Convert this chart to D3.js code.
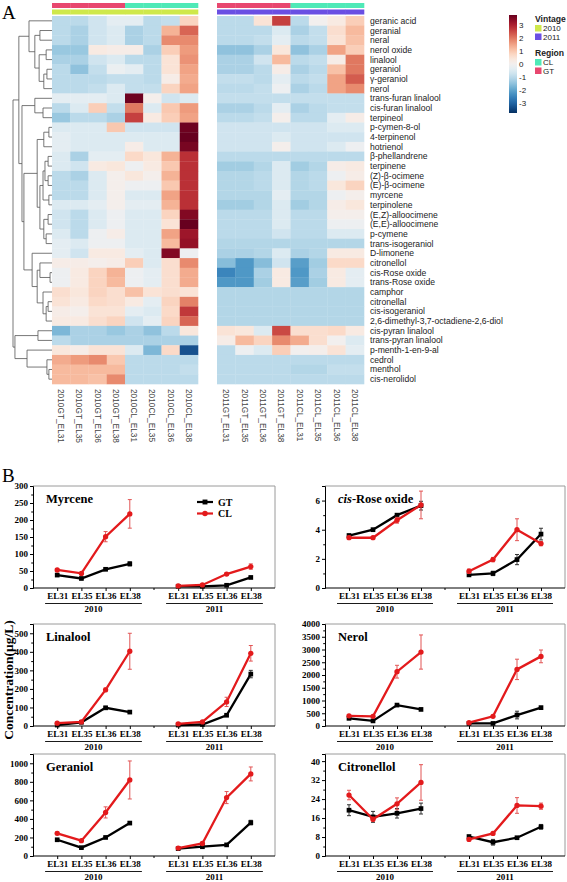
<!DOCTYPE html>
<html><head><meta charset="utf-8">
<script src="https://cdn.jsdelivr.net/npm/d3@7"></script>
<style>body{margin:0;background:#fff}svg{display:block}</style>
</head><body><svg id="c" width="567" height="882"></svg>
<script>
// ---------------- DATA: heatmap ----------------
const compounds = ["geranic acid","geranial","neral","nerol oxide","linalool","geraniol","γ-geraniol","nerol",
"trans-furan linalool","cis-furan linalool","terpineol","p-cymen-8-ol","4-terpinenol","hotrienol","β-phellandrene",
"terpinene","(Z)-β-ocimene","(E)-β-ocimene","myrcene","terpinolene","(E,Z)-alloocimene","(E,E)-alloocimene","p-cymene",
"trans-isogeraniol","D-limonene","citronellol","cis-Rose oxide","trans-Rose oxide","camphor","citronellal","cis-isogeraniol",
"2,6-dimethyl-3,7-octadiene-2,6-diol","cis-pyran linalool","trans-pyran linalool","p-menth-1-en-9-al","cedrol","menthol","cis-nerolidol"];
const samples2010 = ["2010GT_EL31","2010GT_EL35","2010GT_EL36","2010GT_EL38","2010CL_EL31","2010CL_EL35","2010CL_EL36","2010CL_EL38"];
const samples2011 = ["2011GT_EL31","2011GT_EL35","2011GT_EL36","2011GT_EL38","2011CL_EL31","2011CL_EL35","2011CL_EL36","2011CL_EL38"];
const z2010 = [
[-1.0,-1.0,-0.7,-0.35,-0.35,-1.0,-0.9,0.8],
[-1.0,-1.2,-0.7,-0.5,-1.2,-1.0,1.3,2.2],
[-1.0,-1.2,-0.7,-0.5,-1.2,-1.0,1.8,1.8],
[-1.4,-1.4,0.3,0.2,0.2,-1.2,0.9,1.6],
[-1.2,-1.2,-0.7,-0.5,-1.0,-1.0,0.5,1.7],
[-1.0,-1.5,-0.9,-0.2,-0.35,-1.0,0.5,1.5],
[-1.0,-1.0,-1.0,-0.9,-0.9,-1.0,0.2,1.4],
[-1.0,-1.0,-0.9,-0.5,-0.9,-0.9,0.8,1.5],
[-0.35,-0.35,-0.35,-0.5,3.7,0.1,-0.7,-0.5],
[-1.0,-0.5,0.9,-0.9,2.0,-0.5,1.0,1.6],
[-1.4,-1.0,-1.0,-1.2,2.6,0.3,0.9,1.5],
[-0.5,-0.5,-0.5,1.0,-0.7,-0.7,-0.7,3.7],
[-0.35,-0.5,-0.5,-0.5,-0.5,-0.5,-0.5,3.8],
[-0.35,-0.5,-0.5,-0.5,0.2,-0.5,-0.5,3.6],
[-0.5,-1.2,-0.35,-0.35,0.7,0.4,1.3,2.8],
[-0.5,-0.7,0.3,0.4,-0.15,0.3,1.0,2.8],
[-1.0,-1.2,-0.5,0.1,0.4,0.1,1.3,2.8],
[-1.0,-1.0,-0.5,0.1,-0.15,-0.15,1.0,2.8],
[-1.0,-1.0,-0.5,0.1,-0.5,-0.5,1.5,2.8],
[-0.5,-0.5,-0.35,0.1,-0.35,-0.35,1.3,2.8],
[-0.7,-1.0,-0.5,-0.15,-0.5,-0.5,0.8,3.5],
[-0.7,-1.0,-0.5,-0.15,-0.5,-0.5,0.5,3.8],
[-0.5,-1.0,-0.15,0.2,-0.5,-0.5,1.5,3.2],
[-0.35,-0.5,-0.15,-0.15,-0.5,-0.5,1.2,3.3],
[-0.35,-0.7,0.3,0.3,-0.35,-0.5,3.5,-0.15],
[0.2,0.2,0.1,0.2,0.9,-0.5,0.6,1.8],
[-0.15,0.3,0.8,1.3,-0.15,-0.35,0.6,1.4],
[-0.15,0.3,0.8,1.2,-0.15,-0.35,0.6,1.4],
[0.6,0.4,0.8,0.6,1.1,0.5,0.6,0.5],
[0.5,0.3,0.7,0.6,0.3,-0.35,0.8,1.9],
[0.2,0.1,0.5,0.5,-0.35,-0.5,0.7,2.7],
[0.3,0.3,0.6,0.8,-0.7,-0.35,0.8,2.2],
[-1.7,-1.2,-1.2,-1.4,-1.2,-1.5,-1.0,0.4],
[-1.0,-1.2,-1.2,-1.2,-1.2,-1.2,-1.2,-1.2],
[0.4,0.2,0.5,0.5,-0.5,-1.7,0.7,-3.3],
[1.4,1.6,1.8,1.0,-1.0,-1.0,-1.0,-1.0],
[1.2,1.2,1.2,1.2,-1.0,-1.0,-1.0,-0.9],
[1.2,1.2,1.1,1.8,-1.0,-1.0,-1.0,-1.0]];
const z2011 = [
[-1.0,-1.0,0.5,2.6,-1.0,0.0,0.3,0.9],
[-1.0,-1.0,-1.0,-0.5,-1.2,-0.9,0.6,1.2],
[-1.0,-1.0,-0.9,-0.35,-1.0,-0.9,0.5,1.1],
[-1.5,-1.5,-1.2,0.4,-1.5,-1.2,1.5,0.9],
[-1.2,-1.2,-0.7,1.2,-1.0,-0.9,0.2,2.0],
[-1.2,-1.2,-1.0,0.2,-1.2,-1.0,1.1,2.0],
[-0.9,-0.9,-1.0,-0.35,-1.0,-0.9,1.5,2.3],
[-1.0,-1.0,-0.9,-0.15,-1.2,-1.0,1.5,1.8],
[-0.9,-0.9,-0.9,-0.9,-0.9,-0.9,-0.9,-0.9],
[-1.2,-1.2,-1.0,-0.35,-1.2,-1.0,-0.9,-0.9],
[-1.0,-1.0,-0.9,0.1,-1.0,-1.0,-0.35,0.2],
[-0.7,-0.7,-0.7,-0.7,-0.7,-0.7,-0.5,-0.5],
[-0.7,-0.7,-0.7,-0.5,-0.7,-0.7,-0.7,-0.7],
[-0.7,-0.7,-0.7,0.1,-0.7,-0.7,-0.5,-0.15],
[-1.0,-1.0,-1.0,-1.0,-1.0,-1.0,-1.0,-1.0],
[-1.3,-1.3,-1.1,-0.5,-1.3,-1.1,0.2,0.3],
[-1.1,-1.1,-1.0,-0.5,-1.1,-1.0,-0.15,0.2],
[-1.1,-1.1,-1.0,-0.5,-1.1,-1.0,0.4,0.8],
[-1.1,-1.1,-1.1,-0.35,-1.1,-1.1,-0.15,0.1],
[-1.3,-1.3,-1.1,-0.5,-1.3,-1.1,0.2,0.4],
[-1.0,-1.0,-1.0,-0.5,-1.0,-1.0,0.1,0.1],
[-1.0,-1.0,-1.0,-0.5,-1.0,-1.0,-0.15,-0.15],
[-1.0,-1.0,-1.0,-0.7,-1.0,-1.0,-0.5,-0.5],
[-1.1,-1.1,-1.1,-1.1,-1.1,-1.1,-1.1,-1.1],
[-1.2,-1.2,-1.1,-0.5,-1.2,-1.1,0.3,0.3],
[-1.6,-2.2,-1.6,-0.7,-2.1,-1.3,0.7,0.7],
[-2.5,-2.2,-1.2,0.3,-2.2,-1.2,0.3,-0.35],
[-2.2,-2.2,-1.3,0.3,-2.1,-1.3,0.3,-0.35],
[-1.1,-1.1,-1.1,-1.1,-1.1,-1.1,-1.1,-1.1],
[-1.1,-1.1,-1.1,-1.1,-1.1,-1.1,-1.1,-1.1],
[-1.1,-1.1,-1.1,-1.1,-1.1,-1.1,-1.1,-1.1],
[-1.1,-1.1,-1.1,-1.1,-1.1,-1.1,-1.1,-1.1],
[0.5,0.4,-0.5,2.5,0.6,0.6,0.7,0.3],
[0.2,1.2,0.8,1.8,1.4,0.6,0.0,-0.5],
[-1.0,-0.15,-0.5,0.9,0.0,0.1,0.5,-0.35],
[-1.0,-1.0,-1.0,-1.0,-1.0,-1.0,-1.0,-1.0],
[-1.0,-1.0,-1.0,-1.0,-1.1,-1.1,-0.9,-0.9],
[-1.0,-1.0,-1.0,-1.0,-1.0,-1.0,-1.0,-1.0]];
const regionOfSample = ["GT","GT","GT","GT","CL","CL","CL","CL"];
const vintageLevels = ["2010","2011"];
const regionLevels = ["CL","GT"];
const colorTicks = [3,2,1,0,-1,-2,-3];
// dendrogram: [mergeHeight, left, right]; numbers are row indices
const dendro = [10,
  [8.5,
    [5.9, 0, [4.4, [3.1, 1, 2], [3.3, [1.5, 3, 4], [2.1, [1.3, 5, 6], 7]]]],
    [7.7,
      [4.4, 8, [2.3, 9, 10]],
      [7.2,
        [3.8, [2.1, [0.8, 11, 12], 13], [3.1, [2.3, [1.8, [1.0, 14, 15], [1.0, 16, 17]], [0.8, 18, 19]], [2.1, [1.0, 20, 21], [1.5, 22, 23]]]],
        [5.1, 24, [3.8, [3.1, 25, [0.5, 26, 27]], [2.3, 28, [1.5, [1.0, 29, 30], 31]]]]
      ]
    ]
  ],
  [9.5, [3.6, 32, 33], [6.4, 34, [1.3, 35, [0.8, 36, 37]]]]
];

// ---------------- DATA: line charts ----------------
const stages = ["EL31","EL35","EL36","EL38"];
const years = ["2010","2011"];
const myrceneGT = [38,28,55,71, 5,5,8,31];      const myrceneGTErr = [3,3,3,6, 1,1,1,3];
const myrceneCL = [53,43,151,218, 6,9,41,63];   const myrceneCLErr = [3,3,15,42, 1,2,4,8];
const roseGT = [3.6,4.0,5.0,5.65, 0.9,1.0,1.95,3.7]; const roseGTErr = [0.1,0.1,0.1,0.3, 0.05,0.15,0.35,0.4];
const roseCL = [3.45,3.45,4.65,5.7, 1.15,1.95,4.0,3.05]; const roseCLErr = [0.1,0.05,0.2,0.95, 0.15,0.15,0.75,0.15];
const linaloolGT = [5,20,98,75, 5,8,58,280];    const linaloolGTErr = [2,3,8,5, 1,2,5,20];
const linaloolCL = [15,22,195,403, 12,22,130,392]; const linaloolCLErr = [3,3,10,97, 3,3,25,42];
const nerolGT = [300,200,820,650, 100,100,430,720]; const nerolGTErr = [30,30,40,40, 20,20,150,50];
const nerolCL = [400,380,2130,2900, 130,380,2220,2730]; const nerolCLErr = [50,30,250,670, 30,40,400,250];
const geraniolGT = [175,90,200,355, 80,100,120,360]; const geraniolGTErr = [10,8,10,15, 8,8,8,25];
const geraniolCL = [245,165,470,820, 85,135,630,885]; const geraniolCLErr = [15,10,60,205, 10,15,65,75];
const citronellolGT = [19.3,16.5,18,20, 8.2,5.8,7.7,12.3]; const citronellolGTErr = [2.3,2.3,2,2.3, 0.5,1.2,0.3,1];
const citronellolCL = [25.7,15.5,22,31, 7,9.5,21.3,21]; const citronellolCLErr = [2,0.8,2.5,7.5, 0.5,0.5,3.3,1.3];
const panelTitles = ["Myrcene","cis-Rose oxide","Linalool","Nerol","Geraniol","Citronellol"];
const panelYMax = [300, 7, 550, 4000, 1100, 43];
const panelYStep = [50, 2, 100, 500, 200, 8];

// ---------------- DRAW ----------------
const svg = d3.select("#c");
const SANS = "'Liberation Sans', Arial, sans-serif";
const SERIF = "'Liberation Serif', 'Times New Roman', serif";

svg.append("text").attr("x",2).attr("y",19).attr("font-family",SERIF).attr("font-size",19).text("A");

const yH = d3.scaleBand().domain(compounds).range([16,384]);
const xL = d3.scaleBand().domain(samples2010).range([52,198]);
const xR = d3.scaleBand().domain(samples2011).range([217,364]);
const zmax = 3.77;
const color = d3.scaleDiverging(t => d3.interpolateRdBu(1 - t)).domain([-zmax, 0, zmax]);
const vintageColor = d3.scaleOrdinal().domain(vintageLevels).range(["#cfe84b","#6a4fe3"]);
const regionColor = d3.scaleOrdinal().domain(regionLevels).range(["#4fe9b7","#e8476f"]);

function block(xs, samples, zs, year) {
  const g = svg.append("g");
  zs.forEach((row, r) => row.forEach((v, c) => {
    g.append("rect").attr("x", xs(samples[c])).attr("y", yH(compounds[r]))
      .attr("width", xs.bandwidth()+0.3).attr("height", yH.bandwidth()+0.3).attr("fill", color(v));
  }));
  samples.forEach((s, c) => {
    g.append("rect").attr("x", xs(s)).attr("y", 3).attr("width", xs.bandwidth()+0.3).attr("height", 5)
      .attr("fill", regionColor(regionOfSample[c]));
    g.append("rect").attr("x", xs(s)).attr("y", 9.5).attr("width", xs.bandwidth()+0.3).attr("height", 5)
      .attr("fill", vintageColor(year));
    g.append("text").attr("transform", `translate(${xs(s)+xs.bandwidth()/2},389) rotate(90)`)
      .attr("dy","0.35em").attr("font-family",SANS).attr("font-size",8.3).attr("fill","#444").text(s);
  });
}
block(xL, samples2010, z2010, "2010");
block(xR, samples2011, z2011, "2011");

compounds.forEach(c => {
  svg.append("text").attr("x",370).attr("y", yH(c)+yH.bandwidth()/2).attr("dy","0.35em")
    .attr("font-family",SANS).attr("font-size",8.6).attr("fill","#222").text(c);
});

// dendrogram
const xD = d3.scaleLinear().domain([0,10]).range([52,13]);
const dg = svg.append("g").attr("fill","none").attr("stroke","#555").attr("stroke-width",0.8);
function drawNode(n) {
  if (typeof n === "number") return {x: xD(0), y: yH(compounds[n]) + yH.bandwidth()/2};
  const a = drawNode(n[1]), b = drawNode(n[2]), x = xD(n[0]);
  dg.append("path").attr("d", `M${a.x},${a.y}H${x}V${b.y}H${b.x}`);
  return {x, y:(a.y+b.y)/2};
}
drawNode(dendro);

// colour bar
const cbY = d3.scaleLinear().domain([-zmax, zmax]).range([113, 15]);
const grad = svg.append("defs").append("linearGradient").attr("id","cb").attr("x1",0).attr("y1",1).attr("x2",0).attr("y2",0);
d3.range(0, 1.0001, 0.05).forEach(t => grad.append("stop").attr("offset", t).attr("stop-color", color(-zmax + 2*zmax*t)));
svg.append("rect").attr("x",509).attr("y",15).attr("width",8).attr("height",98).attr("fill","url(#cb)");
colorTicks.forEach(t => svg.append("text").attr("x",519).attr("y",cbY(t)).attr("dy","0.35em")
  .attr("font-family",SANS).attr("font-size",8).attr("fill","#222").text(t));
// annotation legend
const lg = svg.append("g").attr("font-family",SANS).attr("font-size",8).attr("fill","#222");
lg.append("text").attr("x",535).attr("y",22).attr("font-weight","bold").attr("font-size",8.6).text("Vintage");
vintageLevels.forEach((v,i) => {
  lg.append("rect").attr("x",535).attr("y",25+i*8.5).attr("width",6.5).attr("height",6.5).attr("fill",vintageColor(v));
  lg.append("text").attr("x",543).attr("y",31+i*8.5).text(v);
});
lg.append("text").attr("x",535).attr("y",56).attr("font-weight","bold").attr("font-size",8.6).text("Region");
regionLevels.forEach((v,i) => {
  lg.append("rect").attr("x",535).attr("y",59+i*8.5).attr("width",6.5).attr("height",6.5).attr("fill",regionColor(v));
  lg.append("text").attr("x",543).attr("y",65+i*8.5).text(v);
});

// ---------------- panel B ----------------
svg.append("text").attr("x",2).attr("y",482).attr("font-family",SERIF).attr("font-size",19).text("B");
svg.append("text").attr("transform","translate(13,680) rotate(-90)").attr("text-anchor","middle")
  .attr("font-family",SERIF).attr("font-weight","bold").attr("font-size",13.5).text("Concentration(μg/L)");

const panelGT = [myrceneGT, roseGT, linaloolGT, nerolGT, geraniolGT, citronellolGT];
const panelGTErr = [myrceneGTErr, roseGTErr, linaloolGTErr, nerolGTErr, geraniolGTErr, citronellolGTErr];
const panelCL = [myrceneCL, roseCL, linaloolCL, nerolCL, geraniolCL, citronellolCL];
const panelCLErr = [myrceneCLErr, roseCLErr, linaloolCLErr, nerolCLErr, geraniolCLErr, citronellolCLErr];
const colX = [[33,275],[325,565]];
const rowY = [[486,588],[624,726],[754,856]];
const RED = "#e31a1c";

panelTitles.forEach((title, p) => {
  const [x0, x1] = colX[p % 2], [y0, y1] = rowY[Math.floor(p / 2)];
  const g = svg.append("g");
  const x = d3.scaleLinear().domain([0, 10]).range([x0, x1]);
  const y = d3.scaleLinear().domain([0, panelYMax[p]]).range([y1, y0]);
  const pos = (i) => (i % 4) + 1 + Math.floor(i / 4) * 5;
  g.append("path").attr("d", `M${x0},${y0}H${x1}V${y1}`).attr("fill","none").attr("stroke","#9a9a9a").attr("stroke-width",1);
  const major = d3.range(0, panelYMax[p] + 1e-9, panelYStep[p]);
  const minor = major.map(v => v + panelYStep[p]/2).filter(v => v < panelYMax[p]);
  const ya = g.append("g").attr("transform",`translate(${x0},0)`)
    .call(d3.axisLeft(y).tickValues(major).tickSize(3).tickPadding(2).tickFormat(d3.format("d")));
  g.append("g").attr("transform",`translate(${x0},0)`)
    .call(d3.axisLeft(y).tickValues(minor).tickSize(1.8).tickFormat("")).select(".domain").remove();
  ya.selectAll("text").attr("font-family",SERIF).attr("font-weight","bold").attr("font-size",9).attr("fill","#000");
  const xa = g.append("g").attr("transform",`translate(0,${y1})`)
    .call(d3.axisBottom(x).tickValues(d3.range(8).map(pos)).tickSize(3).tickPadding(2).tickFormat((d,i) => stages[i % 4]));
  xa.select(".domain").attr("d", `M${x0},0H${x1}`);
  xa.selectAll("text").attr("font-family",SERIF).attr("font-weight","bold").attr("font-size",9).attr("fill","#000");
  g.append("line").attr("x1",x(5)).attr("x2",x(5)).attr("y1",y1).attr("y2",y1+2).attr("stroke","#000");
  years.forEach((yr, k) => {
    g.append("line").attr("x1", x(0.5 + 5*k)).attr("x2", x(4.5 + 5*k)).attr("y1", y1+15.5).attr("y2", y1+15.5)
      .attr("stroke","#000").attr("stroke-width",0.9);
    g.append("text").attr("x", x(2.5 + 5*k)).attr("y", y1+24).attr("text-anchor","middle")
      .attr("font-family",SERIF).attr("font-weight","bold").attr("font-size",9).text(yr);
  });
  const t = g.append("text").attr("x", x0+13).attr("y", y0+17).attr("font-family",SERIF).attr("font-weight","bold").attr("font-size",12.5);
  if (title.startsWith("cis-")) {
    t.append("tspan").attr("font-style","italic").text("cis");
    t.append("tspan").text(title.slice(3));
  } else t.text(title);
  const series = [
    {vals: panelGT[p], err: panelGTErr[p], col: "#000", ecol: "#333", sym: d3.symbolSquare, size: 22},
    {vals: panelCL[p], err: panelCLErr[p], col: RED, ecol: "#e25555", sym: d3.symbolCircle, size: 22}
  ];
  series.forEach(s => {
    years.forEach((yr, k) => {
      const idx = d3.range(4).map(i => i + 4*k);
      g.append("path").attr("d", d3.line().x(i => x(pos(i))).y(i => y(s.vals[i]))(idx))
        .attr("fill","none").attr("stroke", s.col).attr("stroke-width", 2.3);
    });
    s.vals.forEach((v, i) => {
      const cx = x(pos(i));
      const e = s.err[i];
      g.append("path").attr("d", `M${cx},${y(v+e)}V${y(v-e)}M${cx-2},${y(v+e)}H${cx+2}M${cx-2},${y(v-e)}H${cx+2}`)
        .attr("stroke", s.ecol).attr("stroke-width", 1).attr("fill","none");
      g.append("path").attr("d", d3.symbol(s.sym, s.size)()).attr("transform",`translate(${cx},${y(v)})`).attr("fill", s.col);
    });
  });
  if (p === 0) {
    const leg = [["GT","#000",d3.symbolSquare],["CL",RED,d3.symbolCircle]];
    leg.forEach(([name, col, sym], i) => {
      const ly = y0 + 16 + i*11.5;
      g.append("line").attr("x1", x0+164).attr("x2", x0+180).attr("y1", ly).attr("y2", ly).attr("stroke", col).attr("stroke-width",2.2);
      g.append("path").attr("d", d3.symbol(sym, 24)()).attr("transform",`translate(${x0+172},${ly})`).attr("fill", col);
      g.append("text").attr("x", x0+185).attr("y", ly+3.5).attr("font-family",SERIF).attr("font-weight","bold").attr("font-size",10).text(name);
    });
  }
});
</script></body></html>
